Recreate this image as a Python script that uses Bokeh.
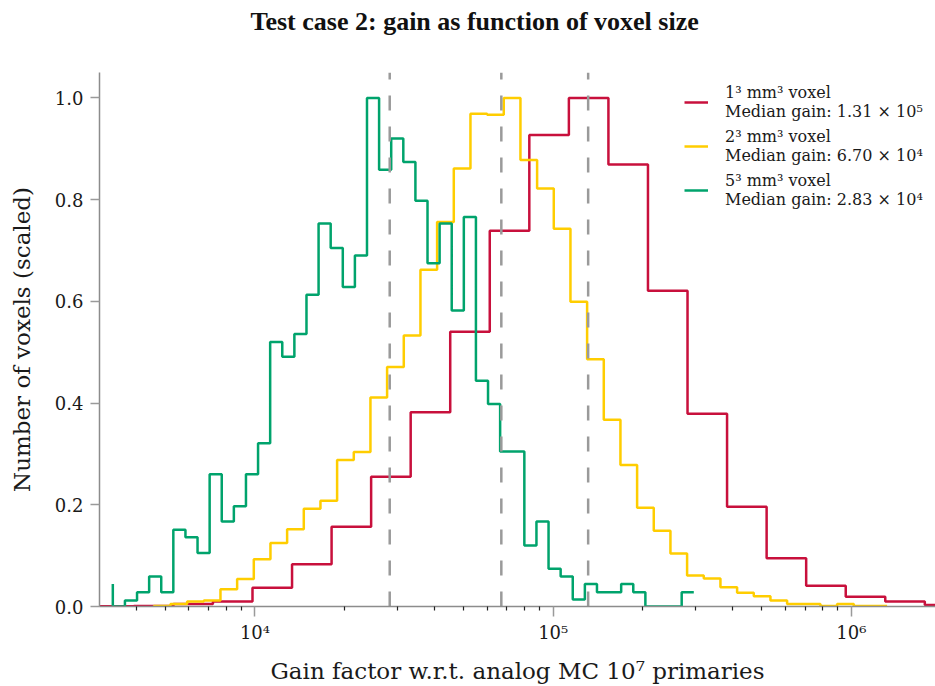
from bokeh.plotting import figure
from bokeh.models import (FixedTicker, PrintfTickFormatter, Legend, LegendItem,
                          ColumnDataSource, Title)
from bokeh.embed import file_html
from bokeh.resources import INLINE

# ---- data (histogram step points: x = bin edges, y = level of bin ending at x) ----
red_x = [2891, 3924, 5325, 7226, 9809, 13313, 18066, 24517, 33273, 45156, 61279,
         83170, 112880, 153190, 207900, 282150, 382900, 519700, 705300, 957300,
         1299000, 1763000, 2393000]
red_y = [0, 0.0005, 0.001, 0.005, 0.010, 0.037, 0.083, 0.157, 0.255, 0.382, 0.540,
         0.739, 0.927, 1.0, 0.869, 0.621, 0.379, 0.196, 0.095, 0.041, 0.019, 0.010, 0.003]

yellow_x = [4578, 5206, 5922, 6735, 7660, 8712, 9908, 11268, 12816, 14576, 16577,
            18853, 21443, 24387, 27735, 31548, 35880, 40806, 46416, 52790, 60040,
            68283, 77660, 88323, 100460, 114260, 129950, 147800, 168080, 191170,
            217420, 247290, 281230, 319870, 363810, 413780, 470630, 535270, 608790,
            692370, 787450, 895630, 1018700, 1158600, 1317700]
yellow_y = [0, 0.001, 0.005, 0.010, 0.012, 0.034, 0.054, 0.093, 0.125, 0.152, 0.192,
            0.208, 0.288, 0.304, 0.411, 0.471, 0.533, 0.662, 0.756, 0.861, 0.969,
            0.967, 1.0, 0.878, 0.822, 0.743, 0.599, 0.486, 0.367, 0.278, 0.194,
            0.149, 0.104, 0.061, 0.055, 0.038, 0.027, 0.020, 0.012, 0.005, 0.005,
            0.001, 0.005, 0.001, 0.001]

green_x = [3336, 3663, 4022, 4416, 4848, 5323, 5845, 6417, 7046, 7736,
           8494, 9327, 10240, 11243, 12345, 13554, 14882, 16340, 17941, 19698,
           21628, 23747, 26073, 28628, 31433, 34512, 37893, 41605, 45681, 50156,
           55070, 60465, 66388, 72892, 80033, 87873, 96482, 105930, 116310, 127710,
           140220, 153950, 169040, 185600, 203780, 223740, 245660, 269730, 296150]
green_y = [0.044, 0, 0.012, 0.028, 0.059, 0.028, 0.151, 0.136, 0.105, 0.26,
           0.167, 0.197, 0.26, 0.321, 0.52, 0.491, 0.536, 0.613, 0.753, 0.705,
           0.628, 0.690, 1.0, 0.859, 0.920, 0.874, 0.798, 0.675, 0.753, 0.582,
           0.766, 0.444, 0.398, 0.305, 0.305, 0.120, 0.167, 0.074, 0.059, 0.014,
           0.044, 0.028, 0.028, 0.044, 0.028, 0, 0, 0, 0.028]

medians = [1.31e5, 6.70e4, 2.83e4]
labels = ["1³ mm³ voxel\nMedian gain: 1.31 × 10⁵",
          "2³ mm³ voxel\nMedian gain: 6.70 × 10⁴",
          "5³ mm³ voxel\nMedian gain: 2.83 × 10⁴"]
colors = ["#c8103c", "#ffcd00", "#00a36c"]
title_text = "Test case 2: gain as function of voxel size"

x_major = [1e4, 1e5, 1e6]
x_major_labels = {10000: "10⁴", 100000: "10⁵", 1000000: "10⁶"}
x_minor = [k * 10 ** e for e in (3, 4, 5, 6) for k in range(2, 10)]
y_ticks = [0.0, 0.2, 0.4, 0.6, 0.8, 1.0]

SERIF = "DejaVu Serif"
TXT = "#1a1a1a"

p = figure(width=935, height=686, x_axis_type="log",
           x_range=(3010, 1.9146e6), y_range=(0, 1.05),
           output_backend="svg", toolbar_location=None,
           min_border_left=99, min_border_right=0, min_border_top=72,
           min_border_bottom=78)
p.outline_line_color = None
p.grid.grid_line_color = None

# a blank second line keeps the title near the top of the page
p.title = Title(text=title_text + "\n ", text_font="Liberation Serif",
                text_font_size="26px", text_font_style="bold",
                text_color="#111111", align="left", offset=151,
                standoff=12, vertical_align="top")

series = [(red_x, red_y), (yellow_x, yellow_y), (green_x, green_y)]
renderers = []
for (xs, ys), c in zip(series, colors):
    r = p.step(x=xs, y=ys, mode="before", line_color=c, line_width=2.5)
    renderers.append(r)

med_src = ColumnDataSource(dict(x=medians, y0=[0] * 3, y1=[1.05] * 3))
p.segment(x0="x", y0="y0", x1="x", y1="y1", source=med_src,
          line_color="#9a9a9a", line_width=2.5, line_dash="15 16")

# axes
xa = p.xaxis[0]
xa.ticker = FixedTicker(ticks=x_major, minor_ticks=x_minor)
xa.major_label_overrides = x_major_labels
xa.axis_label = "Gain factor w.r.t. analog MC 10⁷ primaries"
ya = p.yaxis[0]
ya.ticker = FixedTicker(ticks=y_ticks)
ya.formatter = PrintfTickFormatter(format="%.1f")
ya.axis_label = "Number of voxels (scaled)"

for ax in (xa, ya):
    ax.axis_line_color = "#8c8c8c"
    ax.axis_line_width = 1.5
    ax.major_tick_line_color = "#9a9a9a"
    ax.major_tick_line_width = 1.5
    ax.major_tick_in = 0
    ax.major_label_text_font = SERIF
    ax.major_label_text_font_size = "18px"
    ax.major_label_text_color = TXT
    ax.axis_label_text_font = SERIF
    ax.axis_label_text_font_size = "23px"
    ax.axis_label_text_font_style = "normal"
    ax.axis_label_text_color = TXT

xa.major_tick_out = 10
xa.minor_tick_out = 4
xa.minor_tick_in = 0
xa.minor_tick_line_color = "#222222"
xa.minor_tick_line_width = 1.2
xa.major_label_standoff = 5
xa.axis_label_standoff = 12

ya.major_tick_out = 9
ya.minor_tick_line_color = None
ya.major_label_standoff = 7
ya.axis_label_standoff = 17

legend = Legend(items=[LegendItem(label=l, renderers=[r]) for l, r in zip(labels, renderers)],
                location=(585, 397), padding=0, margin=0, spacing=6,
                glyph_width=24, glyph_height=20, label_standoff=17,
                label_text_font=SERIF, label_text_font_size="16px",
                label_text_line_height=1.45, label_text_color=TXT,
                border_line_alpha=0, background_fill_alpha=0)
p.add_layout(legend)

open("out.html", "w").write(file_html(p, INLINE))
